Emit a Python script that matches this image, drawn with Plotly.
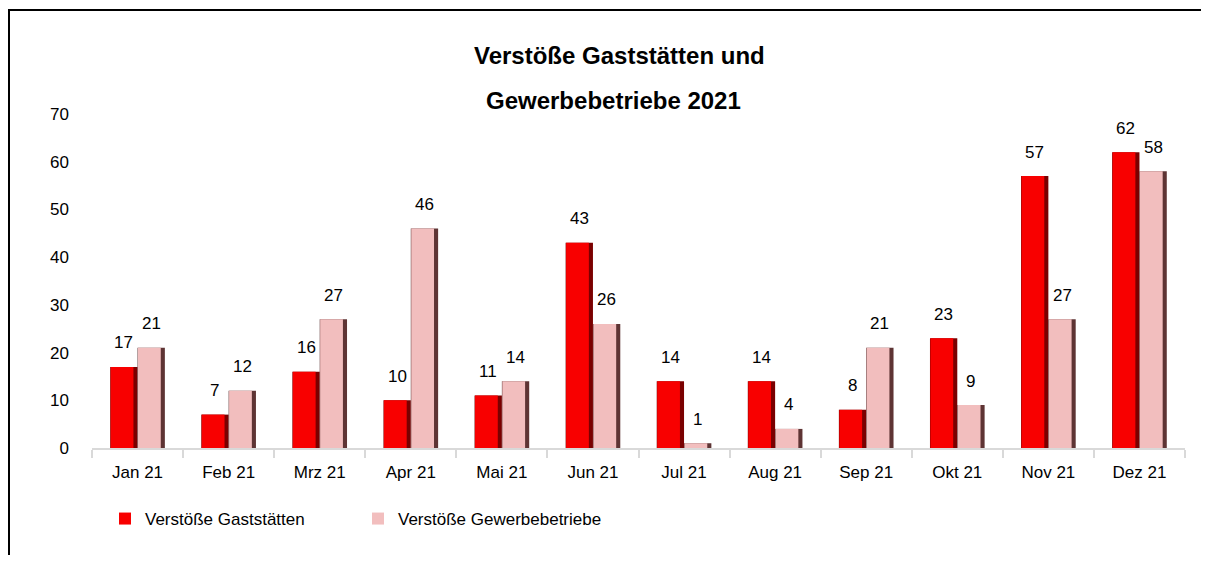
import plotly.graph_objects as go

months = ["Jan 21", "Feb 21", "Mrz 21", "Apr 21", "Mai 21", "Jun 21",
          "Jul 21", "Aug 21", "Sep 21", "Okt 21", "Nov 21", "Dez 21"]
gaststaetten = [17, 7, 16, 10, 11, 43, 14, 14, 8, 23, 57, 62]
gewerbebetriebe = [21, 12, 27, 46, 14, 26, 1, 4, 21, 9, 27, 58]
series_names = ["Verstöße Gaststätten", "Verstöße Gewerbebetriebe"]
title_lines = ["Verstöße Gaststätten und", "Gewerbebetriebe 2021"]

FONT = "Liberation Sans, Arial, sans-serif"
OFF = 8                      # page body margin
W, H = 1209 - 2 * OFF, 563 - 2 * OFF
PLOT_L, PLOT_R, PLOT_T, PLOT_B = 92, 1185, 114, 448   # page pixels
ML, MR = PLOT_L - OFF, W - (PLOT_R - OFF)
MT, MB = PLOT_T - OFF, H - (PLOT_B - OFF)
PW, PH = W - ML - MR, H - MT - MB

BW = 0.30          # bar width in category units
EDGE = 0.045       # dark right edge

fig = go.Figure()
fig.add_trace(go.Bar(x=months, y=gaststaetten, width=BW, offset=-BW,
                     marker=dict(color="#7A0000", line=dict(width=0)),
                     showlegend=False, hoverinfo="skip"))
fig.add_trace(go.Bar(x=months, y=gewerbebetriebe, width=BW, offset=0,
                     marker=dict(color="#5E3434", line=dict(width=0)),
                     showlegend=False, hoverinfo="skip"))
fig.add_trace(go.Bar(x=months, y=gaststaetten, width=BW - EDGE - 0.005,
                     offset=-BW + 0.005, name=series_names[0],
                     marker=dict(color="#F80000", line=dict(width=0))))
fig.add_trace(go.Bar(x=months, y=gewerbebetriebe, width=BW - EDGE - 0.005,
                     offset=0.005, name=series_names[1],
                     marker=dict(color="#F2BEBE", line=dict(width=0))))

bar_px = BW * PW / len(months)
annotations = []
for m, a, b in zip(months, gaststaetten, gewerbebetriebe):
    annotations.append(dict(x=m, y=a, text=str(a), showarrow=False,
                            xshift=-bar_px / 2, yshift=24, yanchor="middle",
                            font=dict(family=FONT, size=17, color="#000")))
    annotations.append(dict(x=m, y=b, text=str(b), showarrow=False,
                            xshift=bar_px / 2, yshift=24, yanchor="middle",
                            font=dict(family=FONT, size=17, color="#000")))


def px_to_paper_x(px):
    return (px - OFF - ML) / PW


def px_to_paper_y(py):
    return (H - MB - (py - OFF)) / PH


for line, cx, cy in zip(title_lines, [619, 613], [55, 100]):
    annotations.append(dict(xref="paper", yref="paper", x=px_to_paper_x(cx),
                            y=px_to_paper_y(cy), text="<b>" + line + "</b>",
                            showarrow=False, xanchor="center", yanchor="middle",
                            font=dict(family=FONT, size=24, color="#000")))

fig.update_layout(
    width=W, height=H,
    margin=dict(l=ML, r=MR, t=MT, b=MB, autoexpand=False),
    paper_bgcolor="white", plot_bgcolor="white",
    barmode="overlay",
    font=dict(family=FONT, size=17, color="#000"),
    annotations=annotations,
    legend=dict(orientation="h", x=px_to_paper_x(105), y=px_to_paper_y(519),
                xanchor="left", yanchor="middle", entrywidth=208,
                font=dict(family=FONT, size=17, color="#000"),
                bgcolor="rgba(0,0,0,0)"),
    shapes=[dict(type="rect", xref="paper", yref="paper",
                 x0=px_to_paper_x(9), x1=px_to_paper_x(1230),
                 y0=px_to_paper_y(600), y1=px_to_paper_y(10),
                 line=dict(color="#000", width=2), fillcolor="rgba(0,0,0,0)",
                 layer="below")],
)
fig.update_xaxes(type="category", showgrid=False, showline=True,
                 linecolor="#D9D9D9", linewidth=2, ticks="outside",
                 tickson="boundaries", ticklen=8, tickwidth=2,
                 tickcolor="#D9D9D9", ticklabelstandoff=8,
                 tickfont=dict(family=FONT, size=17, color="#000"),
                 zeroline=False)
fig.update_yaxes(range=[0, 70], dtick=10, showgrid=False, showline=False,
                 zeroline=False, ticks="", ticklabelstandoff=22,
                 tickfont=dict(family=FONT, size=17, color="#000"))

fig.write_html("out.html")
